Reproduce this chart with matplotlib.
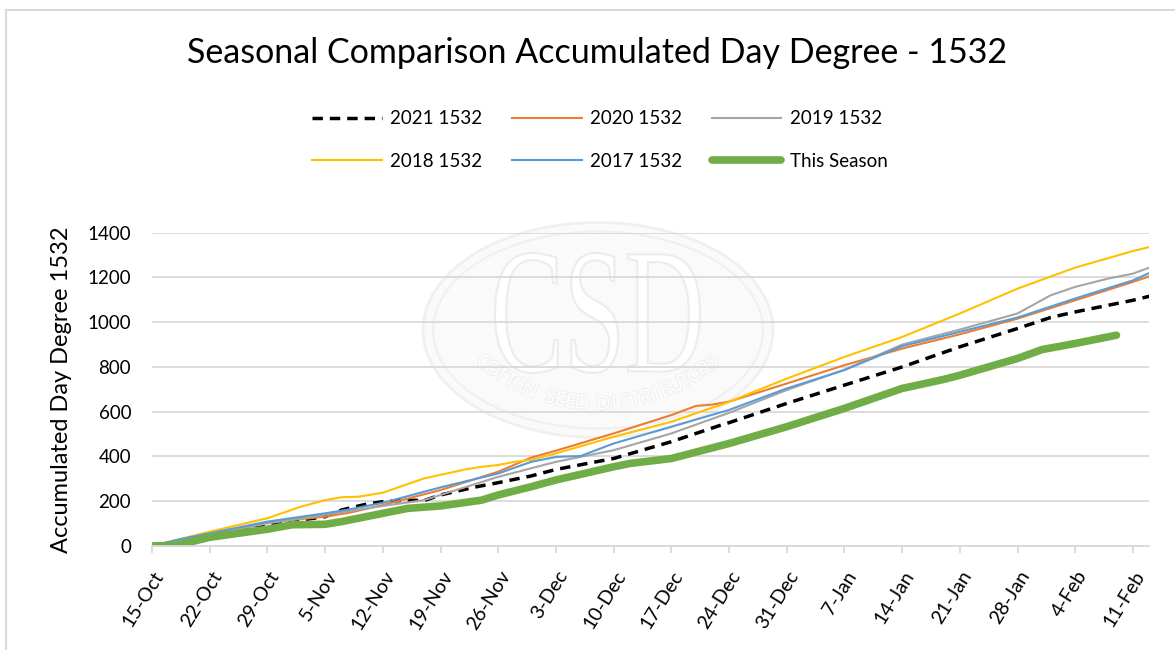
import matplotlib.pyplot as plt
import matplotlib.patheffects as pe
import matplotlib.transforms as mtransforms
from matplotlib.patches import Ellipse, Rectangle, PathPatch
from matplotlib.textpath import TextPath
from matplotlib.font_manager import FontProperties
import numpy as np

plt.rcParams['font.family'] = ['Lato', 'DejaVu Sans']

# x axis: days since 15-Oct
tick_days = list(range(0, 120, 7))
tick_labels = ['15-Oct', '22-Oct', '29-Oct', '5-Nov', '12-Nov', '19-Nov', '26-Nov',
               '3-Dec', '10-Dec', '17-Dec', '24-Dec', '31-Dec', '7-Jan', '14-Jan',
               '21-Jan', '28-Jan', '4-Feb', '11-Feb']

# 2021 1532
d2021 = [0, 7, 14, 21, 23, 26, 28, 31, 33, 35, 39, 42, 46, 49, 56, 63, 69, 70, 77, 84, 91, 98, 105, 109, 112, 119, 121]
v2021 = [0, 45, 95, 131, 161, 187, 198, 205, 203, 228, 262, 283, 313, 342, 391, 466, 540, 551, 637, 719, 800, 890, 972, 1021, 1046, 1098, 1116]

# 2020 1532
d2020 = [0, 7, 14, 21, 24, 28, 35, 42, 46, 49, 56, 63, 66, 68, 70, 77, 84, 91, 98, 105, 112, 119, 121]
v2020 = [0, 49, 105, 131, 149, 183, 250, 332, 395, 426, 503, 585, 626, 632, 645, 726, 808, 882, 946, 1016, 1098, 1180, 1205]

# 2019 1532
d2019 = [0, 7, 14, 21, 28, 33, 35, 42, 47, 49, 56, 63, 70, 77, 84, 91, 98, 105, 109, 112, 116, 119, 121]
v2019 = [0, 50, 101, 140, 179, 205, 228, 309, 357, 376, 428, 503, 595, 697, 788, 900, 967, 1039, 1120, 1158, 1195, 1217, 1244]

# 2018 1532
d2018 = [0, 7, 14, 18, 21, 23, 25, 28, 33, 38, 40, 42, 44, 46, 49, 56, 63, 70, 77, 84, 91, 98, 105, 112, 119, 121]
v2018 = [0, 64, 124, 175, 205, 218, 220, 238, 302, 342, 354, 362, 376, 385, 414, 488, 555, 644, 748, 845, 934, 1039, 1150, 1244, 1318, 1336]

# 2017 1532
d2017 = [0, 3, 7, 14, 21, 24, 28, 35, 42, 46, 49, 52, 56, 63, 70, 77, 84, 91, 98, 105, 112, 119, 121]
v2017 = [0, 27, 57, 109, 146, 164, 193, 262, 324, 376, 398, 402, 458, 533, 608, 704, 786, 893, 957, 1021, 1106, 1187, 1220]

# This Season
d_now = [0, 3, 7, 14, 17, 21, 23, 28, 31, 35, 40, 42, 46, 49, 56, 58, 63, 70, 77, 84, 91, 96, 98, 105, 108, 112, 117]
v_now = [0, 3, 39, 75, 95, 97, 109, 146, 168, 179, 205, 228, 265, 295, 354, 369, 391, 458, 533, 615, 704, 744, 763, 838, 878, 905, 942]

W, H = 1175, 650
fig = plt.figure(figsize=(W / 100, H / 100), dpi=100)

def fx(px):
    return px / W

def fy(py):
    return 1 - py / H

# chart frame
fig.patches.append(Rectangle((fx(6), fy(1000)), fx(1300), fy(10) - fy(1000),
                             transform=fig.transFigure, fill=False,
                             edgecolor='#d9d9d9', lw=1.5, zorder=-3))

# faint CSD watermark (behind the plot)
wm = dict(transform=fig.transFigure, zorder=-2)
fig.patches.append(Ellipse((fx(598), fy(330)), fx(350), 215 / H,
                           facecolor='#fafafa', edgecolor='#f0f0f0', lw=2, **wm))
fig.patches.append(Ellipse((fx(598), fy(330)), fx(330), 197 / H,
                           facecolor='none', edgecolor='#f0f0f0', lw=1.5, **wm))
tp = TextPath((0, 0), 'CSD', size=100, prop=FontProperties(family='Liberation Serif'))
bb = tp.get_extents()
tr = (mtransforms.Affine2D()
      .translate(-bb.x0, -bb.y0)
      .scale(205 / bb.width, 120 / bb.height)
      .translate(495, H - 373))
fig.patches.append(PathPatch(tp, transform=tr, facecolor='white',
                             edgecolor='#ececec', lw=1.5, zorder=-1))
wm_text = 'COTTON SEED DISTRIBUTORS'
cx, cy, r = 598, 226, 178
angs = np.linspace(130, 50, len(wm_text))
for ch, a in zip(wm_text, angs):
    px = cx + r * np.cos(np.radians(a))
    py = cy + r * np.sin(np.radians(a))
    fig.text(fx(px), fy(py), ch, fontsize=14, color='white', ha='center', va='center',
             rotation=90 - a, zorder=-1,
             path_effects=[pe.withStroke(linewidth=1.5, foreground='#efefef')])

ax = fig.add_axes([fx(152), 104 / H, 997.4 / W, 313.3 / H])
ax.patch.set_alpha(0)

l21, = ax.plot(d2021, v2021, color='black', lw=2.5, ls=(0, (3, 2)), label='2021 1532')
l20, = ax.plot(d2020, v2020, color='#ED7D31', lw=1.5, label='2020 1532')
l19, = ax.plot(d2019, v2019, color='#A5A5A5', lw=1.5, label='2019 1532')
l18, = ax.plot(d2018, v2018, color='#FFC000', lw=1.5, label='2018 1532')
l17, = ax.plot(d2017, v2017, color='#5B9BD5', lw=1.5, label='2017 1532')
lnow, = ax.plot(d_now, v_now, color='#70AD47', lw=5.5, solid_capstyle='round',
                label='This Season')

ax.set_xlim(0, 121)
ax.set_ylim(0, 1400)
ax.set_yticks(range(0, 1401, 200))
ax.set_xticks(tick_days)
ax.set_xticklabels(tick_labels)
ax.yaxis.grid(True, color='#d9d9d9', lw=1.3)
ax.set_axisbelow(True)
for s in ['top', 'right', 'left']:
    ax.spines[s].set_visible(False)
ax.spines['bottom'].set_color('#d9d9d9')
ax.spines['bottom'].set_linewidth(1.3)
ax.tick_params(axis='y', length=0, pad=15, labelsize=13.5)
ax.tick_params(axis='x', length=5, width=1.3, color='#d9d9d9', pad=14, labelsize=14)
shift = mtransforms.ScaledTranslation(8 / 100, 0, fig.dpi_scale_trans)
for lab in ax.get_xticklabels():
    lab.set_rotation(58)
    lab.set_ha('right')
    lab.set_va('center')
    lab.set_rotation_mode('anchor')
    lab.set_transform(lab.get_transform() + shift)

ax.set_ylabel('Accumulated Day Degree 1532', fontsize=17)
ax.yaxis.set_label_coords((72 - 152) / 997.4, 0.5)

fig.text(fx(597), fy(53), 'Seasonal Comparison Accumulated Day Degree - 1532',
         fontsize=24.5, ha='center', va='center')

handles = [l21, l18, l20, l17, l19, lnow]
fig.legend(handles=handles, ncol=3, loc='center', bbox_to_anchor=(fx(600), fy(140)),
           frameon=False, fontsize=13.5, handlelength=3.7, columnspacing=1.6,
           handletextpad=0.45, labelspacing=1.35)

fig.savefig('out.png', dpi=100)
